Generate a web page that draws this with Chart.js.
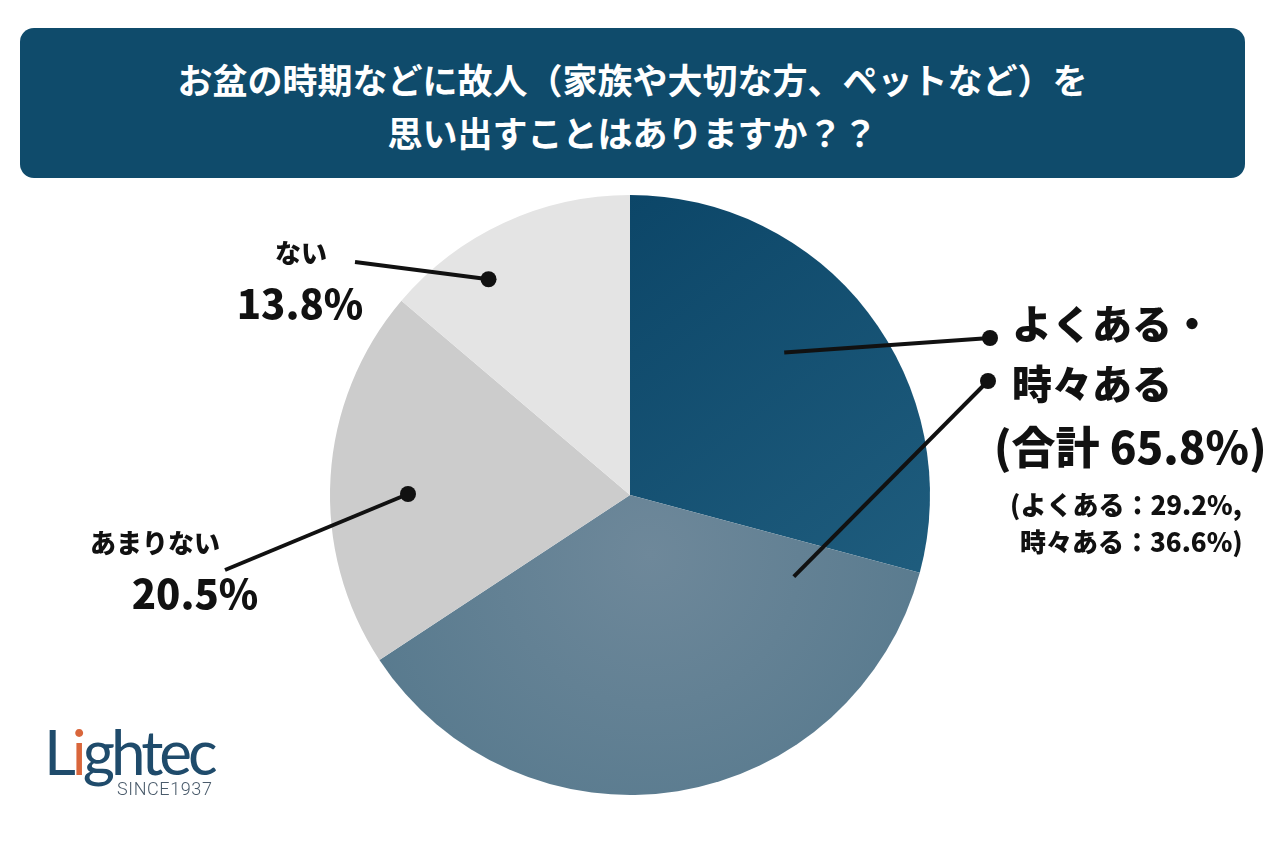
<!DOCTYPE html>
<html lang="ja">
<head>
<meta charset="utf-8">
<script src="https://cdn.jsdelivr.net/npm/chart.js@4.4.1/dist/chart.umd.min.js"></script>
<style>
html, body { margin: 0; padding: 0; background: #fff; }
body { width: 1280px; height: 850px; position: relative; overflow: hidden;
       font-family: "Noto Sans CJK JP", "Noto Sans", sans-serif; }
#title { position: absolute; left: 20px; top: 28px; width: 1225px; height: 150px;
         box-sizing: border-box; padding-top: 4px;
         background: #0f4b6b; border-radius: 14px; color: #fff; font-weight: 700;
         font-size: 35px; line-height: 53px; text-align: center;
         display: flex; flex-direction: column; justify-content: center; }
#chartBox { position: absolute; left: 0; top: 0; width: 1280px; height: 850px; }
.lbl { position: absolute; color: #111; font-weight: 900; white-space: nowrap; line-height: 1.2; }
.c { transform: translate(-50%, -50%); }
.l { transform: translateY(-50%); }
#logo { position: absolute; left: 44px; top: 720px; font-family: Lato, "DejaVu Sans", sans-serif;
        color: #1f4b6b; font-size: 62px; letter-spacing: -4px; line-height: 1; }
#logo .i { color: #d9663b; }
#since { position: absolute; left: 117px; top: 780px; font-family: Roboto, Lato, sans-serif;
         font-weight: 300; color: #4a5b6b; font-size: 18px; letter-spacing: 0.6px; line-height: 1; }
</style>
</head>
<body>
<div id="title">
  <div>お盆の時期などに故人（家族や大切な方、ペットなど）を</div>
  <div>思い出すことはありますか？？</div>
</div>
<div id="chartBox"><canvas id="myChart" width="1280" height="850"></canvas></div>

<div class="lbl c" style="left:301px; top:252px; font-size:26px;">ない</div>
<div class="lbl c" style="left:300px; top:302px; font-size:40px;">13.8%</div>
<div class="lbl c" style="left:155px; top:542px; font-size:26px;">あまりない</div>
<div class="lbl c" style="left:195px; top:592px; font-size:40px;">20.5%</div>
<div class="lbl l" style="left:1012px; top:322px; font-size:40px;">よくある・</div>
<div class="lbl l" style="left:1012px; top:382px; font-size:40px;">時々ある</div>
<div class="lbl l" style="left:994px; top:445px; font-size:44px;">(合計 65.8%)</div>
<div class="lbl l" style="left:1010px; top:504px; font-size:26px;">(よくある：29.2%,</div>
<div class="lbl l" style="left:1020px; top:541px; font-size:26px;">時々ある：36.6%)</div>

<div id="logo">L<span class="i">i</span>ghtec</div>
<div id="since">SINCE1937</div>

<script>
// データ
const categories = ['よくある', '時々ある', 'あまりない', 'ない'];
const values = [29.2, 36.6, 20.5, 13.8];
const colors = ['#124d70', '#5f7f93', '#cccccc', '#e4e4e4'];

// 引き出し線 (t = 扇形内の角度位置, r = 半径比, 外側の端点, 点の位置)
const leaders = [
    { t: 0.45, r: 0.70, out: [990, 338], dotOut: true },
    { t: 0.087, r: 0.61, out: [988, 381], dotOut: true },
    { t: 0.456, r: 0.74, out: [225, 570], dotOut: false },
    { t: 0.33, r: 0.86, out: [355, 262], dotOut: false }
];

//扇形のグラデーション
const sliceFill = (context) => {
    const chart = context.chart;
    const area = chart.chartArea;
    const i = context.dataIndex;
    if (!area) return colors[i];
    const ctx = chart.ctx;
    const cx = (area.left + area.right) / 2;
    const cy = (area.top + area.bottom) / 2;
    const r = Math.min(area.width, area.height) / 2;
    if (i === 0) {
        const g = ctx.createLinearGradient(cx, cy - r, cx + r, cy + r * 0.3);
        g.addColorStop(0, '#0c4668');
        g.addColorStop(1, '#1f5d7e');
        return g;
    }
    if (i === 1) {
        const g = ctx.createRadialGradient(cx + 20, cy + 60, 0, cx + 20, cy + 60, r);
        g.addColorStop(0, '#6e889a');
        g.addColorStop(1, '#587a8e');
        return g;
    }
    return colors[i];
};

const leaderPlugin = {
    id: 'leaderLines',
    afterDatasetsDraw(chart) {
        const ctx = chart.ctx;
        const meta = chart.getDatasetMeta(0);
        ctx.save();
        ctx.strokeStyle = '#111';
        ctx.fillStyle = '#111';
        ctx.lineWidth = 4;
        ctx.lineCap = 'butt';
        meta.data.forEach((arc, i) => {
            const p = arc.getProps(['x', 'y', 'startAngle', 'endAngle', 'outerRadius'], true);
            const L = leaders[i];
            const a = p.startAngle + (p.endAngle - p.startAngle) * L.t;
            const ix = p.x + Math.cos(a) * p.outerRadius * L.r;
            const iy = p.y + Math.sin(a) * p.outerRadius * L.r;
            ctx.beginPath();
            ctx.moveTo(ix, iy);
            ctx.lineTo(L.out[0], L.out[1]);
            ctx.stroke();
            const d = L.dotOut ? L.out : [ix, iy];
            ctx.beginPath();
            ctx.arc(d[0], d[1], 8, 0, Math.PI * 2);
            ctx.fill();
        });
        ctx.restore();
    }
};

const data = {
    labels: categories,
    datasets: [{
        data: values,
        backgroundColor: sliceFill,
        borderWidth: 0,
        hoverOffset: 0,
        offset: 0
    }]
};

const config = {
    type: 'pie',
    data,
    options: {
        responsive: false,
        animation: false,
        events: [],
        layout: { padding: { left: 330, right: 350, top: 195, bottom: 55 } },
        plugins: {
            legend: { display: false },
            tooltip: { enabled: false }
        }
    },
    plugins: [leaderPlugin]
};

const mychart = new Chart(document.getElementById('myChart'), config);
</script>
</body>
</html>
